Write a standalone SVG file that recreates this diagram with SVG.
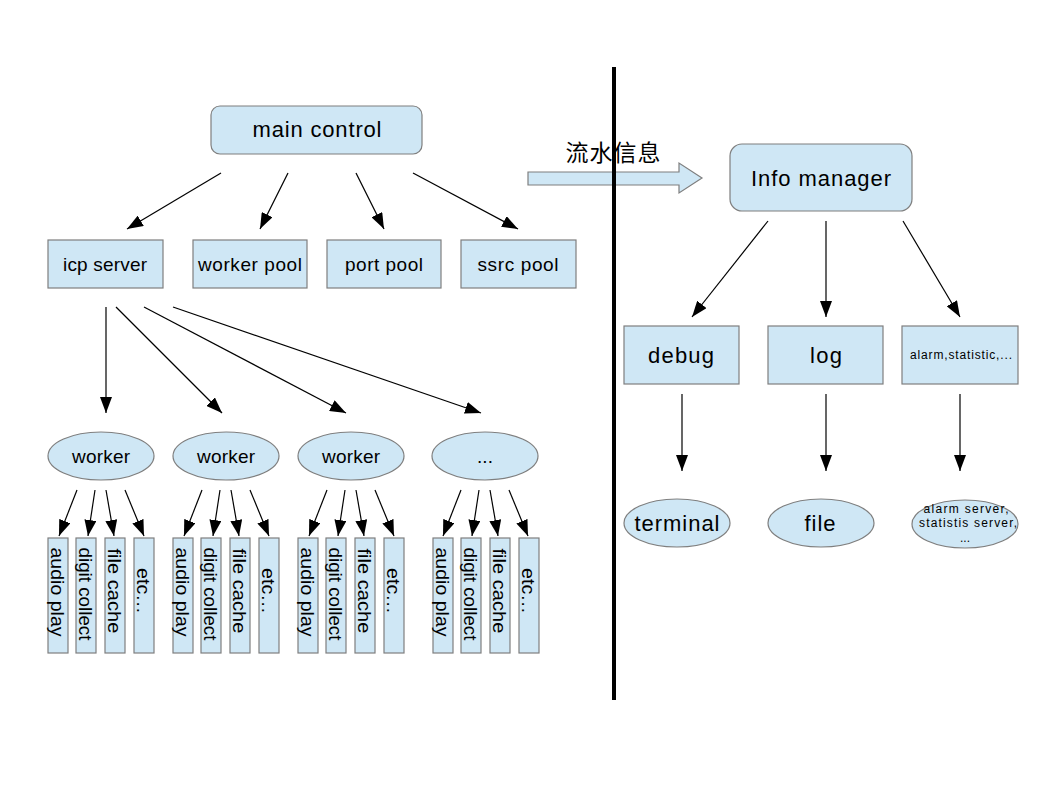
<svg xmlns="http://www.w3.org/2000/svg" width="1058" height="794" viewBox="0 0 1058 794">
<style>
.n{fill:#cfe7f5;stroke:#7f7f7f;stroke-width:1.2}
.t{font-family:"Liberation Sans",Arial,sans-serif;fill:#000;text-anchor:middle}
.c line{stroke:#000;stroke-width:1.2;marker-end:url(#ah)}
.v{font-size:19px}
</style>
<defs>
<marker id="ah" markerUnits="userSpaceOnUse" markerWidth="16" markerHeight="12" viewBox="0 0 16 12" refX="16" refY="6" orient="auto">
<path d="M0,0 L16,6 L0,12 z" fill="#000"/>
</marker>
<g id="leaves">
<rect class="n" x="48" y="538" width="20" height="115"/>
<rect class="n" x="76" y="538" width="20" height="115"/>
<rect class="n" x="105" y="538" width="20" height="115"/>
<rect class="n" x="134" y="538" width="20" height="115"/>
<text class="t v" transform="translate(58,592) rotate(90)" dy="0.36em" textLength="89" lengthAdjust="spacingAndGlyphs">audio play</text>
<text class="t v" transform="translate(86,594) rotate(90)" dy="0.36em" textLength="93" lengthAdjust="spacingAndGlyphs">digit collect</text>
<text class="t v" transform="translate(115,591) rotate(90)" dy="0.36em" textLength="85" lengthAdjust="spacingAndGlyphs">file cache</text>
<text class="t v" transform="translate(144,591) rotate(90)" dy="0.36em" textLength="46" lengthAdjust="spacingAndGlyphs">etc…</text>
</g>
</defs>
<rect width="1058" height="794" fill="#fff"/>

<g id="connectors" class="c">
<line x1="221" y1="173" x2="127" y2="229"/>
<line x1="288" y1="173" x2="260" y2="229"/>
<line x1="356" y1="173" x2="384" y2="229"/>
<line x1="413" y1="173" x2="518" y2="229"/>
<line x1="106" y1="307" x2="106" y2="413"/>
<line x1="116" y1="307" x2="222" y2="413"/>
<line x1="144" y1="307" x2="346" y2="413"/>
<line x1="173" y1="307" x2="481" y2="413"/>
<line x1="77" y1="490" x2="59" y2="536"/>
<line x1="95" y1="490" x2="88" y2="536"/>
<line x1="106" y1="490" x2="114" y2="536"/>
<line x1="125" y1="490" x2="144" y2="536"/>
<line x1="202" y1="490" x2="184" y2="536"/>
<line x1="220" y1="490" x2="213" y2="536"/>
<line x1="231" y1="490" x2="239" y2="536"/>
<line x1="250" y1="490" x2="269" y2="536"/>
<line x1="327" y1="490" x2="309" y2="536"/>
<line x1="345" y1="490" x2="338" y2="536"/>
<line x1="356" y1="490" x2="364" y2="536"/>
<line x1="375" y1="490" x2="394" y2="536"/>
<line x1="461" y1="490" x2="443" y2="536"/>
<line x1="479" y1="490" x2="472" y2="536"/>
<line x1="490" y1="490" x2="498" y2="536"/>
<line x1="509" y1="490" x2="528" y2="536"/>
<line x1="768" y1="221" x2="692" y2="317"/>
<line x1="826" y1="221" x2="826" y2="317"/>
<line x1="903" y1="221" x2="960" y2="317"/>
<line x1="682" y1="394" x2="682" y2="471"/>
<line x1="826" y1="394" x2="826" y2="471"/>
<line x1="960" y1="394" x2="960" y2="471"/>
</g>

<g id="flow-arrow">
<path class="n" d="M528,172 L679,172 L679,163 L702,178 L679,193 L679,185 L528,185 z"/>
<text x="613" y="161" font-size="23" text-anchor="middle" fill="#000" style="font-family:'Noto Sans CJK SC',sans-serif" textLength="95">流水信息</text>
</g>

<g id="divider">
<line x1="614" y1="67" x2="614" y2="700" stroke="#000" stroke-width="4"/>
</g>

<g id="main-control">
<rect class="n" x="211" y="106" width="211" height="48" rx="9"/>
<text class="t" x="317" y="137" font-size="22" textLength="129">main control</text>
</g>
<g id="icp-server">
<rect class="n" x="48" y="240" width="115" height="48"/>
<text class="t" x="105" y="271" font-size="19" textLength="84">icp server</text>
</g>
<g id="worker-pool">
<rect class="n" x="193" y="240" width="114" height="48"/>
<text class="t" x="250" y="271" font-size="19" textLength="104">worker pool</text>
</g>
<g id="port-pool">
<rect class="n" x="327" y="240" width="114" height="48"/>
<text class="t" x="384" y="271" font-size="19" textLength="78">port pool</text>
</g>
<g id="ssrc-pool">
<rect class="n" x="461" y="240" width="115" height="48"/>
<text class="t" x="518" y="271" font-size="19" textLength="81">ssrc pool</text>
</g>

<g id="worker1">
<ellipse class="n" cx="101" cy="456" rx="53" ry="24"/>
<text class="t" x="101" y="463" font-size="19" textLength="58">worker</text>
</g>
<g id="worker2">
<ellipse class="n" cx="226" cy="456" rx="53" ry="24"/>
<text class="t" x="226" y="463" font-size="19" textLength="58">worker</text>
</g>
<g id="worker3">
<ellipse class="n" cx="351" cy="456" rx="53" ry="24"/>
<text class="t" x="351" y="463" font-size="19" textLength="58">worker</text>
</g>
<g id="worker4">
<ellipse class="n" cx="485" cy="456" rx="53" ry="24"/>
<text class="t" x="485" y="463" font-size="19">...</text>
</g>

<g id="tasks1"><use href="#leaves"/></g>
<g id="tasks2"><use href="#leaves" x="125"/></g>
<g id="tasks3"><use href="#leaves" x="250"/></g>
<g id="tasks4"><use href="#leaves" x="385"/></g>

<g id="info-manager">
<rect class="n" x="730" y="144" width="182" height="67" rx="12"/>
<text class="t" x="821" y="186" font-size="22" textLength="140">Info manager</text>
</g>
<g id="debug">
<rect class="n" x="624" y="326" width="115" height="58"/>
<text class="t" x="681" y="363" font-size="22" textLength="66">debug</text>
</g>
<g id="log">
<rect class="n" x="768" y="326" width="115" height="58"/>
<text class="t" x="826" y="363" font-size="22" textLength="32">log</text>
</g>
<g id="alarm">
<rect class="n" x="902" y="326" width="116" height="58"/>
<text class="t" x="961" y="359" font-size="12" textLength="102">alarm,statistic,...</text>
</g>
<g id="terminal">
<ellipse class="n" cx="677" cy="523" rx="53" ry="24"/>
<text class="t" x="677" y="531" font-size="22" textLength="85">terminal</text>
</g>
<g id="file">
<ellipse class="n" cx="821" cy="523" rx="53" ry="24"/>
<text class="t" x="820" y="531" font-size="22" textLength="31">file</text>
</g>
<g id="alarm-server">
<ellipse class="n" cx="965" cy="524" rx="53" ry="24"/>
<text class="t" x="966" y="513" font-size="12" textLength="85">alarm server,</text>
<text class="t" x="968" y="527" font-size="12" textLength="98">statistis server,</text>
<text class="t" x="965" y="542" font-size="12">...</text>
</g>
</svg>
